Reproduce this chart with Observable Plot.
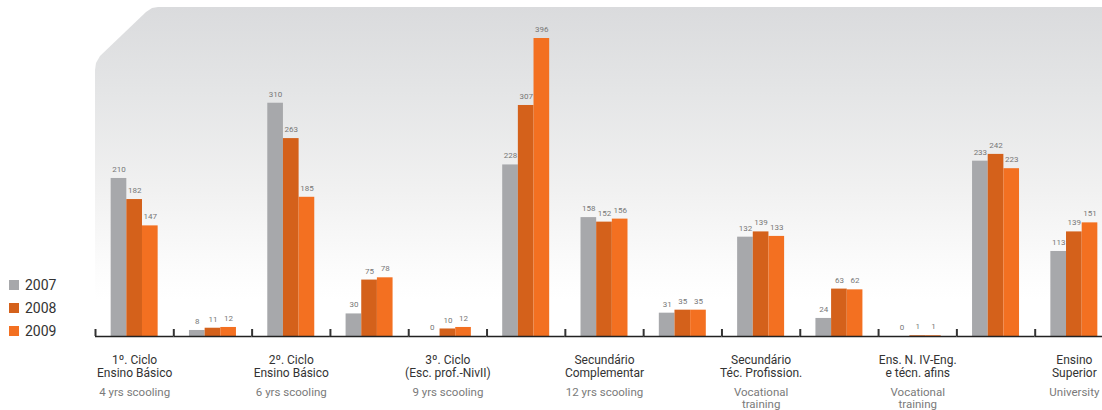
<!DOCTYPE html>
<html><head><meta charset="utf-8">
<script src="https://cdn.jsdelivr.net/npm/d3@7"></script>
<script src="https://cdn.jsdelivr.net/npm/@observablehq/plot@0.6"></script>
<style>
html,body{margin:0;padding:0;background:#fff;overflow:hidden}
#wrap{position:relative;width:1102px;height:410px;overflow:hidden;font-family:Roboto,"DejaVu Sans",sans-serif}
#panel{position:absolute;left:0;top:0;width:1102px;height:410px;
  background:linear-gradient(to bottom,#dadbdd 7px,#e4e5e6 90px,#f1f1f1 190px,#fcfcfc 270px,#ffffff 300px);
  clip-path:polygon(95px 410px,95px 70px,96px 63px,100px 56px,146px 12px,152px 8px,158px 7px,1102px 7px,1102px 410px)}
#chart{position:absolute;left:0;top:0}
#legend{position:absolute;left:9px;top:273px}
.item{display:flex;align-items:center;height:23px;font-size:14px;color:#333}
.sw{width:10px;height:10px;margin-right:6px}
</style></head>
<body>
<div id="wrap"><div id="panel"></div><div id="chart"></div><div id="legend"></div></div>
<script>
const years = ["2007", "2008", "2009"];
const colors = ["#a7a8ab", "#d4611b", "#f37021"];
const categories = ["1º. Ciclo\nEnsino Básico", "", "2º. Ciclo\nEnsino Básico", "", "3º. Ciclo\n(Esc. prof.-NivII)", "", "Secundário\nComplementar", "", "Secundário\nTéc. Profission.", "", "Ens. N. IV-Eng.\ne técn. afins", "", "Ensino\nSuperior"];
const subtitles = ["4 yrs scooling", "", "6 yrs scooling", "", "9 yrs scooling", "", "12 yrs scooling", "", "Vocational\ntraining", "", "Vocational\ntraining", "", "University"];
const v2007 = [210, 8, 310, 30, 0, 228, 158, 31, 132, 24, 0, 233, 113];
const v2008 = [182, 11, 263, 75, 10, 307, 152, 35, 139, 63, 1, 242, 139];
const v2009 = [147, 12, 185, 78, 12, 396, 156, 35, 133, 62, 1, 223, 151];

const series = [v2007, v2008, v2009];
const groups = d3.range(categories.length);
const rows = [];
groups.forEach(g => years.forEach((y, k) => rows.push({group: g, year: y, value: series[k][g]})));
const catRows = groups.filter(g => categories[g]).map(g => ({group: g, label: categories[g]}));
const subRows = groups.filter(g => subtitles[g]).map(g => ({group: g, label: subtitles[g]}));

const W = 1113, ML = 95, MR = 0;
const step = (W - ML - MR) / groups.length;
const font = 'Roboto, "DejaVu Sans", sans-serif';

const plot = Plot.plot({
  width: W, height: 410,
  marginLeft: ML, marginRight: MR, marginTop: 35, marginBottom: 74,
  style: {background: "transparent", fontFamily: font, maxWidth: "none", overflow: "visible"},
  fx: {domain: groups, padding: 0, round: false, label: null},
  x: {domain: years, paddingInner: 0, paddingOuter: 1, round: false, axis: null},
  y: {domain: [0, 400], axis: null},
  color: {domain: years, range: colors},
  marks: [
    Plot.barY(rows, {fx: "group", x: "year", y: "value", fill: "year", inset: 0}),
    Plot.text(rows, {fx: "group", x: "year", y: "value", text: d => String(d.value), dy: -9, fontSize: 8, fill: "#777"}),
    Plot.ruleY([0], {stroke: "#222", strokeWidth: 1.5}),
    Plot.axisFx({anchor: "bottom", tickSize: 7, dy: -7, dx: -step / 2, tickFormat: () => "", stroke: "#333", strokeWidth: 2, label: null}),
    Plot.text(catRows, {fx: "group", text: "label", frameAnchor: "bottom", lineAnchor: "top", dy: 18, fontSize: 12, lineHeight: 1.1, fill: "#333"}),
    Plot.text(subRows, {fx: "group", text: "label", frameAnchor: "bottom", lineAnchor: "top", dy: 51, fontSize: 11.5, lineHeight: 1.02, fill: "#7a7a7a"})
  ]
});
document.getElementById("chart").appendChild(plot);

const legend = document.getElementById("legend");
years.forEach((y, k) => {
  const it = document.createElement("div");
  it.className = "item";
  it.innerHTML = `<span class="sw" style="background:${colors[k]}"></span><span>${y}</span>`;
  legend.appendChild(it);
});
</script>
</body></html>
